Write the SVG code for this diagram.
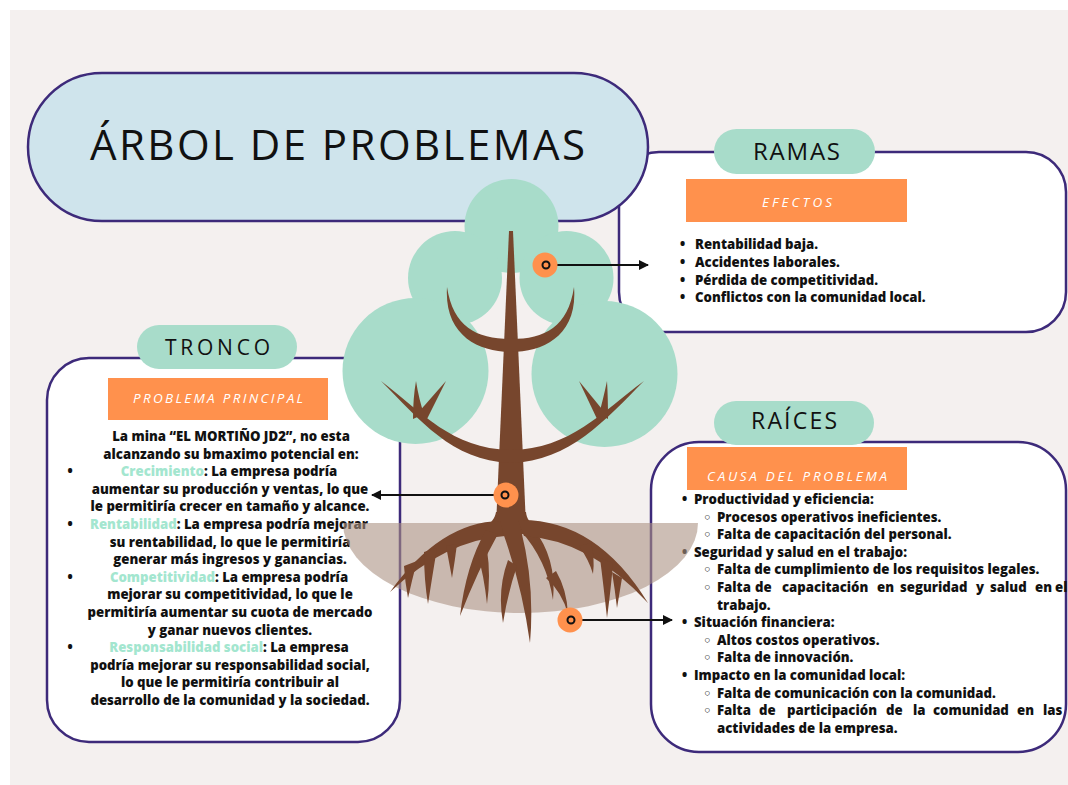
<svg xmlns="http://www.w3.org/2000/svg" width="1068" height="785" viewBox="0 0 1068 785">
<defs>
<style>
.box{fill:#ffffff;stroke:#3d2a7a;stroke-width:2.5}
.pill{fill:#a8dcca}
.lab{fill:#ff914d}
.pt{font-family:"Open Sans","DejaVu Sans",sans-serif;font-weight:500;fill:#111}
.lt{font-family:"Open Sans","DejaVu Sans",sans-serif;font-style:italic;font-size:13.5px;fill:#ffffff;font-weight:500}
.bt{font-family:"Open Sans","DejaVu Sans",sans-serif;font-weight:800;font-size:13.2px;fill:#111}
.hl{fill:#a3e6cf}
.leaf{fill:#a8dcca}
.wood{fill:#77462d}
.dot{fill:#ff914d}
.ring{fill:#ff914d;stroke:#111;stroke-width:2}
.con{stroke:#111;stroke-width:2;fill:none}
</style>
<marker id="ah" viewBox="0 0 10 10" refX="9" refY="5" markerWidth="5" markerHeight="5" orient="auto-start-reverse" markerUnits="strokeWidth">
<path d="M0,0 L10,5 L0,10 Z" fill="#111"/>
</marker>
</defs>
<rect x="0" y="0" width="1068" height="785" fill="#ffffff"/>
<rect x="10" y="10" width="1058" height="775" fill="#f4f0ef"/>

<g id="ramas-box">
<rect class="box" x="619" y="152" width="447" height="180" rx="40"/>
</g>
<g id="tronco-box">
<rect class="box" x="47" y="358" width="353" height="384" rx="42"/>
</g>
<g id="raices-box">
<rect class="box" x="651" y="442" width="415" height="310" rx="48"/>
</g>

<g id="title">
<rect x="28" y="73" width="620" height="148" rx="74" fill="#cfe4ec" stroke="#3d2a7a" stroke-width="2.5"/>
<text class="pt" x="90" y="160" font-size="42" font-weight="500" textLength="495" lengthAdjust="spacing">ÁRBOL DE PROBLEMAS</text>
</g>

<g id="ramas-label">
<rect class="pill" x="714" y="129" width="161" height="45" rx="22.5"/>
<text class="pt" x="753" y="160" font-size="24" textLength="87" lengthAdjust="spacing">RAMAS</text>
<rect class="lab" x="686" y="179" width="221" height="43"/>
<text class="lt" x="762" y="207" textLength="70" lengthAdjust="spacing">EFECTOS</text>
</g>
<g id="ramas-text" class="bt">
<text x="680" y="249">•</text><text x="695" y="249">Rentabilidad baja.</text>
<text x="680" y="267">•</text><text x="695" y="267">Accidentes laborales.</text>
<text x="680" y="285">•</text><text x="695" y="285">Pérdida de competitividad.</text>
<text x="680" y="302">•</text><text x="695" y="302">Conflictos con la comunidad local.</text>
</g>

<g id="tronco-label">
<rect class="pill" x="137" y="325" width="160" height="44" rx="22"/>
<text class="pt" x="165" y="355" font-size="21" textLength="105" lengthAdjust="spacing">TRONCO</text>
<rect class="lab" x="108" y="378" width="220" height="42"/>
<text class="lt" x="133" y="403" textLength="170" lengthAdjust="spacing">PROBLEMA PRINCIPAL</text>
</g>
<g id="tronco-text" class="bt" text-anchor="middle">
<text x="231" y="441">La mina “EL MORTIÑO JD2”, no esta</text>
<text x="231" y="458.6">alcanzando su bmaximo potencial en:</text>
<text x="70" y="476.2">•</text><text x="229" y="476.2"><tspan class="hl">Crecimiento</tspan>: La empresa podría</text>
<text x="230" y="493.8">aumentar su producción y ventas, lo que</text>
<text x="230" y="511.4">le permitiría crecer en tamaño y alcance.</text>
<text x="70" y="529">•</text><text x="229" y="529"><tspan class="hl">Rentabilidad</tspan>: La empresa podría mejorar</text>
<text x="230" y="546.6">su rentabilidad, lo que le permitiría</text>
<text x="230" y="564.2">generar más ingresos y ganancias.</text>
<text x="70" y="581.8">•</text><text x="229" y="581.8"><tspan class="hl">Competitividad</tspan>: La empresa podría</text>
<text x="230" y="599.4">mejorar su competitividad, lo que le</text>
<text x="230" y="617">permitiría aumentar su cuota de mercado</text>
<text x="230" y="634.6">y ganar nuevos clientes.</text>
<text x="70" y="652.2">•</text><text x="229" y="652.2"><tspan class="hl">Responsabilidad social</tspan>: La empresa</text>
<text x="230" y="669.8">podría mejorar su responsabilidad social,</text>
<text x="230" y="687.4">lo que le permitiría contribuir al</text>
<text x="230" y="705">desarrollo de la comunidad y la sociedad.</text>
</g>

<g id="raices-label">
<rect class="pill" x="714" y="401" width="160" height="44" rx="22"/>
<text class="pt" x="751" y="429" font-size="23" textLength="86" lengthAdjust="spacing">RAÍCES</text>
<rect class="lab" x="687" y="447" width="220" height="43"/>
<text class="lt" x="707" y="481" textLength="180" lengthAdjust="spacing">CAUSA DEL PROBLEMA</text>
</g>
<g id="raices-text" class="bt">
<text x="682" y="504">•</text><text x="694" y="504">Productividad y eficiencia:</text>
<text x="703" y="521.6">◦</text><text x="717" y="521.6">Procesos operativos ineficientes.</text>
<text x="703" y="539.2">◦</text><text x="717" y="539.2">Falta de capacitación del personal.</text>
<text x="682" y="556.8">•</text><text x="694" y="556.8">Seguridad y salud en el trabajo:</text>
<text x="703" y="574.4">◦</text><text x="717" y="574.4">Falta de cumplimiento de los requisitos legales.</text>
<text x="703" y="592">◦</text><text y="592"><tspan x="717">Falta</tspan><tspan x="755">de</tspan><tspan x="782">capacitación</tspan><tspan x="877">en</tspan><tspan x="900">seguridad</tspan><tspan x="976">y</tspan><tspan x="990">salud</tspan><tspan x="1035">en</tspan><tspan x="1055">el</tspan></text>
<text x="717" y="609.6">trabajo.</text>
<text x="682" y="627.2">•</text><text x="694" y="627.2">Situación financiera:</text>
<text x="703" y="644.8">◦</text><text x="717" y="644.8">Altos costos operativos.</text>
<text x="703" y="662.4">◦</text><text x="717" y="662.4">Falta de innovación.</text>
<text x="682" y="680">•</text><text x="694" y="680">Impacto en la comunidad local:</text>
<text x="703" y="697.6">◦</text><text x="717" y="697.6">Falta de comunicación con la comunidad.</text>
<text x="703" y="715.2">◦</text><text y="715.2"><tspan x="717">Falta</tspan><tspan x="759">de</tspan><tspan x="787">participación</tspan><tspan x="886">de</tspan><tspan x="913">la</tspan><tspan x="933">comunidad</tspan><tspan x="1017">en</tspan><tspan x="1043">las</tspan></text>
<text x="717" y="732.8">actividades de la empresa.</text>
</g>

<g id="tree">
<g id="foliage" class="leaf">
<circle cx="511.5" cy="226" r="47"/>
<circle cx="455" cy="278" r="47"/>
<circle cx="566.5" cy="278" r="47"/>
<circle cx="415.5" cy="371" r="73"/>
<circle cx="604.5" cy="374" r="73"/>
</g>
<g id="wood" class="wood">
<path d="M509,231 L513,231 L526,526 L496,526 Z"/>
<path d="M447,287 C444,335 478,352 511,352 C544,352 578,335 574,287 C568,327 545,339 511,339 C477,339 453,327 447,287 Z"/>
<path d="M381,381 C420,420 452,461 511,463 C570,461 605,420 644,381 C602,412 570,449 511,450 C452,449 423,413 381,381 Z"/>
<path d="M413,419 Q413,398 416,381 Q419,400 424,414 Z"/>
<path d="M417,414 L446,381 L426,421 Z"/>
<path d="M608,419 Q608,398 607,381 Q603,400 599,414 Z"/>
<path d="M606,414 L579,381 L598,421 Z"/>
</g>
<path id="soil" d="M343,523 L698,523 A177.5,90 0 0 1 343,523 Z" fill="#ab9383" opacity="0.6"/>
<g id="roots" class="wood">
<path d="M496,512 C494,525 480,530 470,534 L552,534 C540,530 527,525 526,512 Z"/>
<path d="M500,521 Q440,522 390,592 Q446,540 505,536 Z"/>
<path d="M404,566 Q405,582 408,598 Q412,580 417,561 Z"/>
<path d="M424,552 Q424,580 428,604 Q432,578 437,548 Z"/>
<path d="M446,546 Q449,562 452,578 Q455,560 457,544 Z"/>
<path d="M486,530 Q466,565 460,616 Q478,570 498,534 Z"/>
<path d="M477,552 Q484,575 487,604 Q491,575 487,550 Z"/>
<path d="M502,530 Q522,585 530,643 Q535,585 521,530 Z"/>
<path d="M508,560 Q497,590 503,623 Q508,592 517,566 Z"/>
<path d="M520,530 Q547,560 553,600 Q557,558 533,528 Z"/>
<path d="M546,578 Q562,592 568,614 Q567,590 556,571 Z"/>
<path d="M518,520 Q596,518 648,603 Q590,540 524,536 Z"/>
<path d="M600,558 Q604,590 607,618 Q611,588 613,563 Z"/>
<path d="M612,572 Q615,590 617,608 Q620,590 622,578 Z"/>
<path d="M579,546 Q589,560 593,574 Q595,558 591,543 Z"/>
</g>
</g>

<g id="connectors">
<line class="con" x1="546" y1="265" x2="648" y2="265" marker-end="url(#ah)"/>
<line class="con" x1="505" y1="495" x2="372" y2="495" marker-end="url(#ah)"/>
<line class="con" x1="571" y1="620" x2="672" y2="620" marker-end="url(#ah)"/>
</g>
<g id="dot-ramas"><circle class="dot" cx="545" cy="265" r="12.5"/><circle class="ring" cx="546" cy="265" r="3.5"/></g>
<g id="dot-tronco"><circle class="dot" cx="506" cy="495" r="12.5"/><circle class="ring" cx="505" cy="495" r="3.5"/></g>
<g id="dot-raices"><circle class="dot" cx="570" cy="620" r="12.5"/><circle class="ring" cx="571" cy="620" r="3.5"/></g>
</svg>
